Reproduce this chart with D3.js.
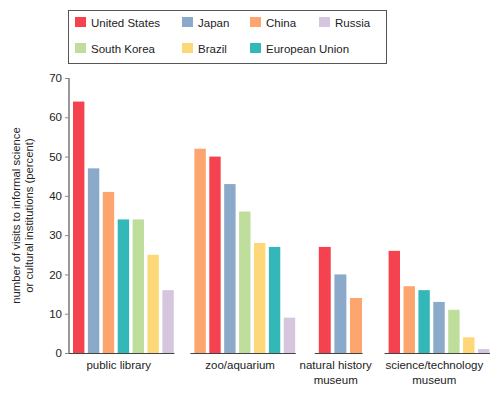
<!DOCTYPE html>
<html>
<head>
<meta charset="utf-8">
<script src="https://cdn.jsdelivr.net/npm/d3@7"></script>
<style>
  body { margin: 0; background: #fff; }
  text { font-family: "Liberation Sans", Arial, sans-serif; fill: #222; }
</style>
</head>
<body>
<svg id="chart"></svg>
<script>
// series (legend order)
const countries = ["United States", "Japan", "China", "Russia", "South Korea", "Brazil", "European Union"];
const colors = ["#f4434f", "#8ba9c9", "#fca56f", "#d5c6dd", "#bfdd9b", "#fed778", "#33b7b8"];

// groups and their bars, sorted as drawn
const groups = ["public library", "zoo/aquarium", "natural history museum", "science/technology museum"];
const groupLabels = [["public library"], ["zoo/aquarium"], ["natural history", "museum"], ["science/technology", "museum"]];
const libraryBars = [["United States", 64], ["Japan", 47], ["China", 41], ["European Union", 34], ["South Korea", 34], ["Brazil", 25], ["Russia", 16]];
const zooBars = [["China", 52], ["United States", 50], ["Japan", 43], ["South Korea", 36], ["Brazil", 28], ["European Union", 27], ["Russia", 9]];
const naturalBars = [["United States", 27], ["Japan", 20], ["China", 14]];
const scienceBars = [["United States", 26], ["China", 17], ["European Union", 16], ["Japan", 13], ["South Korea", 11], ["Brazil", 4], ["Russia", 1]];
const yTicks = [0, 10, 20, 30, 40, 50, 60, 70];

const WIDTH = 500;
const HEIGHT = 393;
const M = { LEFT: 69, RIGHT: 10, TOP: 78, BOTTOM: 40 };
const GAPS = [16, 19, 22];   // space between groups
const PAD = 4;               // baseline overhang on each side
const INNER = 0.235;         // gap between bars, as a share of the step

let svg = d3.select("#chart").attr("width", WIDTH).attr("height", HEIGHT);
let color = d3.scaleOrdinal().domain(countries).range(colors);

let barSets = [libraryBars, zooBars, naturalBars, scienceBars];

// pixel step of one bar, from the total width
const plotW = WIDTH - M.RIGHT - M.LEFT;
let nBars = d3.sum(barSets, b => b.length);
let step = (plotW - d3.sum(GAPS) - groups.length * 2 * PAD) / (nBars - groups.length * INNER);

let y = d3.scaleLinear().domain([0, 70]).range([HEIGHT - M.BOTTOM, M.TOP]);

let x0 = M.LEFT;
barSets.forEach(function(bars, gi) {
  let gw = bars.length * step - INNER * step + 2 * PAD;
  let xb = d3.scaleBand()
    .domain(bars.map(d => d[0]))
    .range([x0 + PAD, x0 + PAD + bars.length * step])
    .paddingInner(INNER)
    .paddingOuter(0)
    .align(0);

  let g = svg.append("g");
  g.selectAll("rect")
    .data(bars)
    .enter()
    .append("rect")
      .attr("x", d => xb(d[0]))
      .attr("y", d => y(d[1]))
      .attr("width", xb.bandwidth())
      .attr("height", d => y(0) - y(d[1]))
      .attr("fill", d => color(d[0]));

  g.append("line")
    .attr("x1", x0 - (gi === 0 ? 2 : 0)).attr("x2", x0 + gw)
    .attr("y1", y(0) + 0.5).attr("y2", y(0) + 0.5)
    .attr("stroke", "#444").attr("stroke-width", 1.2);

  let cx = x0 + gw / 2 - 3;
  let t = g.append("text")
    .attr("x", cx)
    .attr("y", y(0) + 15.5)
    .attr("text-anchor", "middle")
    .style("font-size", "11.5px");
  groupLabels[gi].forEach(function(line, li) {
    t.append("tspan").attr("x", cx).attr("dy", li === 0 ? 0 : 15).text(line);
  });

  x0 += gw + (GAPS[gi] || 0);
});

// y axis
let yAxis = svg.append("g")
  .attr("transform", `translate(${M.LEFT},0)`)
  .call(d3.axisLeft(y).tickValues(yTicks).tickSize(4).tickPadding(3));
yAxis.select(".domain").attr("stroke", "#999").attr("stroke-width", 2).attr("d", `M0,${y(70)}V${y(0)}`);
yAxis.selectAll(".tick line").attr("stroke", "#888");
yAxis.selectAll(".tick text")
  .style("font-size", "11.5px")
  .style("font-family", "Liberation Sans, Arial, sans-serif")
  .attr("fill", "#222");

let yl = svg.append("text")
  .attr("transform", `translate(26, ${(y(0) + y(70)) / 2}) rotate(-90)`)
  .attr("text-anchor", "middle")
  .style("font-size", "11.3px");
yl.append("tspan").attr("x", 0).attr("dy", -6).text("number of visits to informal science");
yl.append("tspan").attr("x", 0).attr("dy", 13).text("or cultural institutions (percent)");

// legend
let legend = svg.append("g");
legend.append("rect")
  .attr("x", 68.5).attr("y", 10.5).attr("width", 318).attr("height", 53)
  .attr("fill", "#fff").attr("stroke", "#555").attr("stroke-width", 1);

const legCols = [75, 182, 250, 319];
let legItems = legend.selectAll("g.item")
  .data(countries)
  .enter()
  .append("g")
    .attr("class", "item")
    .attr("transform", (d, i) => `translate(${legCols[i % 4]},${i < 4 ? 17 : 43})`);
legItems.append("rect")
  .attr("width", 11).attr("height", 10)
  .attr("fill", d => color(d));
legItems.append("text")
  .attr("x", 16).attr("y", 9.5)
  .style("font-size", "11.5px")
  .text(d => d);
</script>
</body>
</html>
